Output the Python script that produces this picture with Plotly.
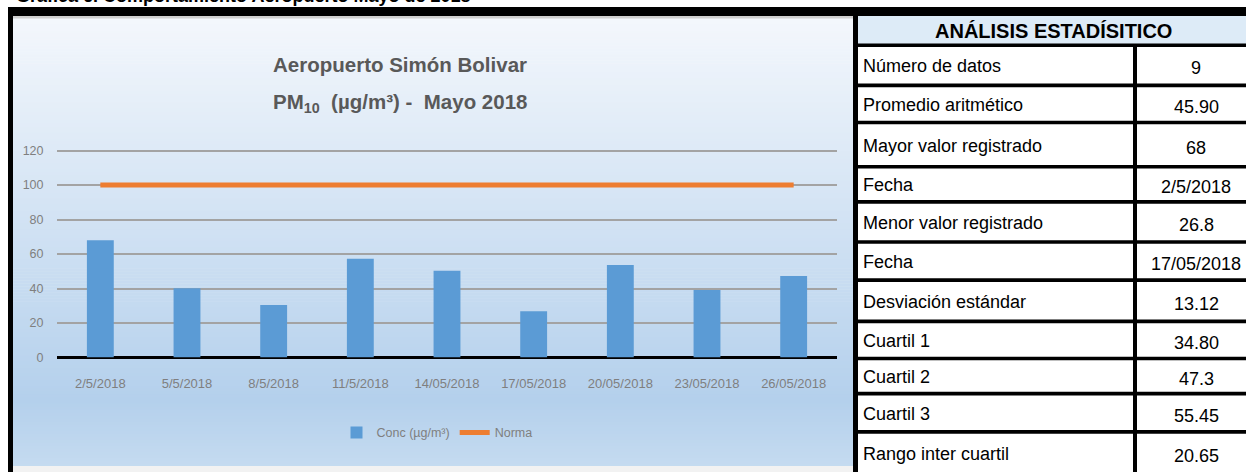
import plotly.graph_objects as go

# ---------------- data ----------------
dates = ["2/5/2018", "5/5/2018", "8/5/2018", "11/5/2018", "14/05/2018",
         "17/05/2018", "20/05/2018", "23/05/2018", "26/05/2018"]
conc = [68, 40.2, 30.4, 57.3, 50.3, 26.8, 53.6, 39.2, 47.3]
norma = [100, 100, 100, 100, 100, 100, 100, 100, 100]
y_ticks = [0, 20, 40, 60, 80, 100, 120]

stat_title = "ANÁLISIS ESTADÍSITICO"
stat_labels = ["Número de datos", "Promedio aritmético", "Mayor valor registrado", "Fecha",
               "Menor valor registrado", "Fecha", "Desviación estándar", "Cuartil 1",
               "Cuartil 2", "Cuartil 3", "Rango inter cuartil"]
stat_values = ["9", "45.90", "68", "2/5/2018", "26.8", "17/05/2018", "13.12",
               "34.80", "47.3", "55.45", "20.65"]

# design grid (target picture pixels)
W, H = 1246, 472
def px(x):
    return x / W
def py(y):
    return 1 - y / H

# the photographed region is slightly taller than the window; size the figure to it
FIG_H = 486
FIG_TOP = -5

FONT = "Liberation Sans, Arial, sans-serif"

shapes = []
def rect(x0, y0, x1, y1, color, layer="below"):
    shapes.append(dict(type="rect", xref="paper", yref="paper",
                       x0=px(x0), x1=px(x1), y0=py(y1), y1=py(y0),
                       fillcolor=color, line=dict(width=0), layer=layer))

stops = [(0.0, (243, 247, 252)), (0.85, (180, 208, 236)), (1.0, (197, 219, 240))]
def grad(t):
    for (t0, c0), (t1, c1) in zip(stops[:-1], stops[1:]):
        if t <= t1:
            f = (t - t0) / (t1 - t0)
            return "rgb(%d,%d,%d)" % tuple(round(a + (b - a) * f) for a, b in zip(c0, c1))
    return "rgb(%d,%d,%d)" % stops[-1][1]

gy0, gy1 = 18, 464
step = 3
y = gy0
while y < gy1:
    y2 = min(y + step + 0.6, gy1)
    rect(13, y, 853, y2, grad((y - gy0) / (gy1 - gy0)))
    y += step
rect(13, 464, 853, 472, "#f2f2f2")
rect(13, 16, 853, 18.5, "#cfcfcf")

rect(8, 7, W, 16, "black")
rect(8, 7, 13, H, "black")
rect(853, 7, 858, H, "black")

rect(858, 16, W, 44, "#DDEBF7")
rect(858, 44, W, H, "white")
row_lines = [45, 85, 122, 166, 201, 241, 279, 320, 357, 392, 430]
for yl in row_lines:
    rect(858, yl - 1.8, W, yl + 1.8, "black")
rect(1133, 44, 1137, H, "black")

annotations = []
annotations.append(dict(text="<b>" + stat_title + "</b>", x=px(1053), y=py(31),
                        xref="paper", yref="paper", showarrow=False,
                        xanchor="center", yanchor="middle",
                        font=dict(family=FONT, size=20, color="black")))
row_bottoms = row_lines[1:] + [472]
for lab, val, top, bot in zip(stat_labels, stat_values, row_lines, row_bottoms):
    yc = (top + bot) / 2 + 1
    annotations.append(dict(text=lab, x=px(861), y=py(yc), xref="paper", yref="paper",
                            showarrow=False, xanchor="left", yanchor="middle",
                            font=dict(family=FONT, size=18, color="black")))
    annotations.append(dict(text=val, x=px(1196), y=py(yc + 2), xref="paper", yref="paper",
                            showarrow=False, xanchor="center", yanchor="middle",
                            font=dict(family=FONT, size=18, color="black")))

annotations.append(dict(text="<b>Aeropuerto Simón Bolivar</b>", x=px(400), y=py(64),
                        xref="paper", yref="paper", showarrow=False,
                        xanchor="center", yanchor="middle",
                        font=dict(family=FONT, size=20.5, color="#595959")))
annotations.append(dict(text="<b>PM<sub>10</sub>\u00a0 (µg/m³) -\u00a0 Mayo 2018</b>",
                        x=px(400), y=py(103), xref="paper", yref="paper", showarrow=False,
                        xanchor="center", yanchor="middle",
                        font=dict(family=FONT, size=20.5, color="#595959")))
annotations.append(dict(text="<b>Gráfica 6. Comportamiento Aeropuerto Mayo de 2018</b>",
                        x=px(14), y=py(-4), xref="paper", yref="paper", showarrow=False,
                        xanchor="left", yanchor="middle",
                        font=dict(family=FONT, size=18, color="black")))

fig = go.Figure()
fig.add_trace(go.Bar(x=dates, y=conc, name="Conc (µg/m³)",
                     marker=dict(color="#5B9BD5", line=dict(width=0))))
fig.add_trace(go.Scatter(x=dates, y=norma, name="Norma", mode="lines",
                         line=dict(color="#ED7D31", width=5)))

y_top_val = 121
y_top_px = 356 - y_top_val * (356 - 150) / 120

fig.update_layout(
    width=W - 16, height=H - 16,
    margin=dict(l=0, r=0, t=0, b=0),
    paper_bgcolor="white", plot_bgcolor="rgba(0,0,0,0)",
    bargap=0.69,
    showlegend=True,
    legend=dict(orientation="h", x=px(437), xanchor="center", y=py(431), yanchor="middle",
                bgcolor="rgba(0,0,0,0)", font=dict(family=FONT, size=12.5, color="#7f7f7f"),
                itemwidth=30, tracegroupgap=0),
    xaxis=dict(domain=[px(57), px(837)], type="category", showgrid=False, showline=False,
               zeroline=False, ticks="outside", ticklen=14, tickcolor="rgba(0,0,0,0)",
               tickfont=dict(family=FONT, size=13, color="#7f7f7f")),
    yaxis=dict(domain=[py(356), py(y_top_px)], range=[0, y_top_val], tickvals=y_ticks,
               showgrid=True, gridcolor="#a3a3a3", gridwidth=2,
               zeroline=True, zerolinecolor="black", zerolinewidth=2.5,
               showline=False, ticks="outside", ticklen=10, tickcolor="rgba(0,0,0,0)",
               tickfont=dict(family=FONT, size=12.5, color="#7f7f7f")),
    shapes=shapes,
    annotations=annotations,
)

pin = """
var d=document.getElementById('{plot_id}');
var de=document.documentElement;
de.style.margin='0';de.style.padding='0';de.style.overflow='hidden';
document.body.style.margin='0';document.body.style.padding='0';document.body.style.overflow='hidden';
d.style.position='fixed';d.style.left='0px';d.style.top='%dpx';
d.style.width='%dpx';d.style.height='%dpx';
Plotly.relayout(d, {width: %d, height: %d});
""" % (FIG_TOP, W, FIG_H, W, FIG_H)
fig.write_html("out.html", post_script=pin, config={"displayModeBar": False})
